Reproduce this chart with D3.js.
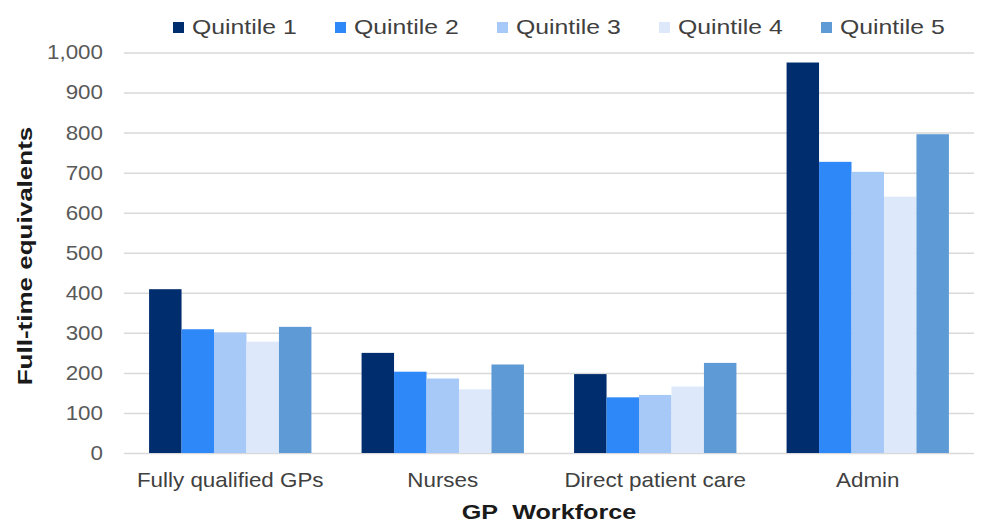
<!DOCTYPE html>
<html>
<head>
<meta charset="utf-8">
<script src="https://cdn.jsdelivr.net/npm/d3@7"></script>
<style>
  html, body { margin: 0; padding: 0; background: #fff; }
  svg { display: block; font-family: "Liberation Sans", Arial, sans-serif; }
</style>
</head>
<body>
<svg id="chart" width="981" height="524"></svg>
<script>
const categories = ["Fully qualified GPs", "Nurses", "Direct patient care", "Admin"];
const seriesNames = ["Quintile 1", "Quintile 2", "Quintile 3", "Quintile 4", "Quintile 5"];
const quintile1 = [409, 250, 197, 975];
const quintile2 = [309, 203, 139, 727];
const quintile3 = [301, 186, 145, 702];
const quintile4 = [278, 159, 166, 640];
const quintile5 = [315, 221, 225, 796];
const seriesValues = [quintile1, quintile2, quintile3, quintile4, quintile5];
const colors = ["#002d6e", "#2e88f7", "#a6c9f7", "#dde9fb", "#5e9bd6"];
const yTicks = [0, 100, 200, 300, 400, 500, 600, 700, 800, 900, 1000];
const yTitle = "Full-time equivalents";
const xTitle = "GP\u00a0\u00a0Workforce";

const svg = d3.select("#chart");
const W = 981, H = 524;
const margin = { top: 52.5, right: 7, bottom: 71, left: 124 };

const x0 = d3.scaleBand().domain(categories)
  .range([margin.left, W - margin.right])
  .paddingInner(0.236).paddingOuter(0.118);
const x1 = d3.scaleBand().domain(seriesNames).range([0, x0.bandwidth()]).padding(0);
const y = d3.scaleLinear().domain([0, 1000]).range([H - margin.bottom, margin.top]);

// gridlines
svg.append("g")
  .attr("transform", `translate(${margin.left},0)`)
  .call(d3.axisLeft(y).tickValues(yTicks).tickSize(-(W - margin.left - margin.right)).tickFormat(""))
  .call(g => g.select(".domain").remove())
  .call(g => g.selectAll("line").attr("stroke", "#d9d9d9").attr("stroke-width", 1.5));

// y axis labels
const sxTick = 1.12;
svg.append("g")
  .attr("transform", `translate(${margin.left},0)`)
  .call(d3.axisLeft(y).tickValues(yTicks).tickSize(0).tickPadding(0).tickFormat(d3.format(",")))
  .call(g => g.select(".domain").remove())
  .call(g => g.selectAll("text")
    .attr("x", -21 / sxTick)
    .attr("transform", `scale(${sxTick},1)`)
    .attr("fill", "#595959")
    .style("font-size", "20px"));

// bars
const groups = svg.append("g").selectAll("g")
  .data(categories)
  .join("g")
  .attr("transform", d => `translate(${x0(d)},0)`);

groups.selectAll("rect")
  .data((c, ci) => seriesNames.map((s, si) => ({ s, v: seriesValues[si][ci], color: colors[si] })))
  .join("rect")
  .attr("x", d => x1(d.s))
  .attr("width", x1.bandwidth())
  .attr("y", d => y(d.v))
  .attr("height", d => y(0) - y(d.v))
  .attr("fill", d => d.color);

// x axis
const sxCat = 1.12;
svg.append("g")
  .attr("transform", `translate(0,${H - margin.bottom})`)
  .call(d3.axisBottom(x0).tickSize(0).tickPadding(0))
  .call(g => g.select(".domain").remove())
  .call(g => g.selectAll("text")
    .attr("y", 0)
    .attr("dy", 0)
    .attr("transform", `translate(0,34) scale(${sxCat},1)`)
    .attr("fill", "#404040")
    .style("font-size", "20px"));

// axis titles
svg.append("text")
  .attr("transform", `translate(32,256) rotate(-90) scale(1.3,1)`)
  .attr("text-anchor", "middle")
  .attr("fill", "#1a1a1a")
  .style("font-size", "20px")
  .style("font-weight", "bold")
  .text(yTitle);

svg.append("text")
  .attr("transform", `translate(549,519) scale(1.26,1)`)
  .attr("text-anchor", "middle")
  .attr("fill", "#1a1a1a")
  .style("font-size", "20px")
  .style("font-weight", "bold")
  .text(xTitle);

// legend
const legend = svg.append("g").selectAll("g")
  .data(seriesNames)
  .join("g")
  .attr("transform", (d, i) => `translate(${173 + i * 162},22)`);
legend.append("rect")
  .attr("width", 11).attr("height", 11)
  .attr("fill", (d, i) => colors[i]);
legend.append("text")
  .attr("transform", "translate(19,12) scale(1.24,1)")
  .attr("fill", "#404040")
  .style("font-size", "20px")
  .text(d => d);
</script>
</body>
</html>
